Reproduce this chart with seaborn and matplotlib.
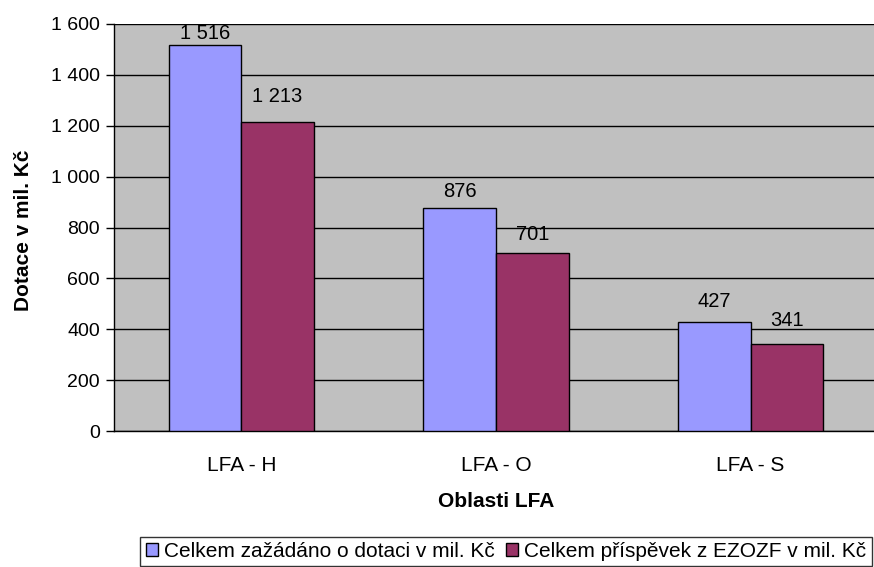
import matplotlib
matplotlib.use("Agg")
import matplotlib.pyplot as plt
import seaborn as sns
import pandas as pd

categories = ["LFA - H", "LFA - O", "LFA - S"]
series_names = ["Celkem zažádáno o dotaci v mil. Kč", "Celkem příspěvek z EZOZF v mil. Kč"]
requested = [1516, 876, 427]
contribution = [1213, 701, 341]
y_ticks = [0, 200, 400, 600, 800, 1000, 1200, 1400, 1600]

# label offsets above the bars (points), per series
label_offsets = [[1.5, 5, 8], [12, 6, 10]]

def fmt(v):
    return f"{v:,}".replace(",", " ")

df = pd.DataFrame({
    "cat": categories * 2,
    "series": [series_names[0]] * 3 + [series_names[1]] * 3,
    "value": requested + contribution,
})

sns.set_style("white")
plt.rcParams["font.family"] = ["Liberation Sans", "DejaVu Sans"]
for k in ["text.color", "axes.labelcolor", "xtick.color", "ytick.color"]:
    plt.rcParams[k] = "black"

fig = plt.figure(figsize=(8.74, 5.67), dpi=100)
ax = fig.add_axes([114 / 874, 1 - 431 / 567, 764 / 874, 407 / 567])
ax.set_facecolor("#C0C0C0")

sns.barplot(data=df, x="cat", y="value", hue="series", order=categories,
            hue_order=series_names, palette=["#9999FF", "#993366"], saturation=1,
            width=0.57, edgecolor="black", linewidth=1.0, ax=ax, zorder=3)

ax.set_ylim(0, 1600)
ax.set_xlim(-0.5, 2.5)
ax.set_yticks(y_ticks)
ax.set_yticklabels([fmt(v) for v in y_ticks], fontsize=14)
ax.yaxis.grid(True, color="black", linewidth=1.0, zorder=0)
ax.set_axisbelow(True)

ax.set_xticks(range(3))
ax.set_xticklabels(categories, fontsize=15)
ax.tick_params(axis="x", length=0, pad=18)
ax.set_xticks([-0.5, 0.5, 1.5, 2.5], minor=True)
ax.tick_params(axis="x", which="minor", length=6, width=1, color="black", direction="out")
ax.tick_params(axis="y", length=6, width=1, color="black", direction="out", left=True, pad=4)

for s in ["top", "right"]:
    ax.spines[s].set_visible(False)
for s in ["left", "bottom"]:
    ax.spines[s].set_color("black")
    ax.spines[s].set_linewidth(1.0)

for ci, cont in enumerate(ax.containers):
    for bi, (bar, v) in enumerate(zip(cont.patches, cont.datavalues)):
        ax.annotate(fmt(int(v)), (bar.get_x() + bar.get_width() / 2, bar.get_height()),
                    xytext=(0, label_offsets[ci][bi]), textcoords="offset points",
                    ha="center", va="bottom", fontsize=14.5, color="black",
                    annotation_clip=False)

ax.set_xlabel("Oblasti LFA", fontsize=15, fontweight="bold")
ax.xaxis.set_label_coords(0.5, (431 - 492) / 407)
ax.xaxis.label.set_va("top")
ax.set_ylabel("Dotace v mil. Kč", fontsize=15, fontweight="bold")
ax.yaxis.set_label_coords((33 - 114) / 764, (431 - 230) / 407)

leg = ax.legend(loc="lower center", bbox_to_anchor=(506 / 874, 0.0), bbox_transform=fig.transFigure,
                ncol=2, fontsize=15, frameon=True, fancybox=False, edgecolor="black",
                handlelength=0.6, handleheight=0.6, handletextpad=0.3, columnspacing=0.5,
                borderpad=0.25, borderaxespad=0.05)
leg.get_frame().set_linewidth(1.0)

fig.savefig("out.png", dpi=100)
